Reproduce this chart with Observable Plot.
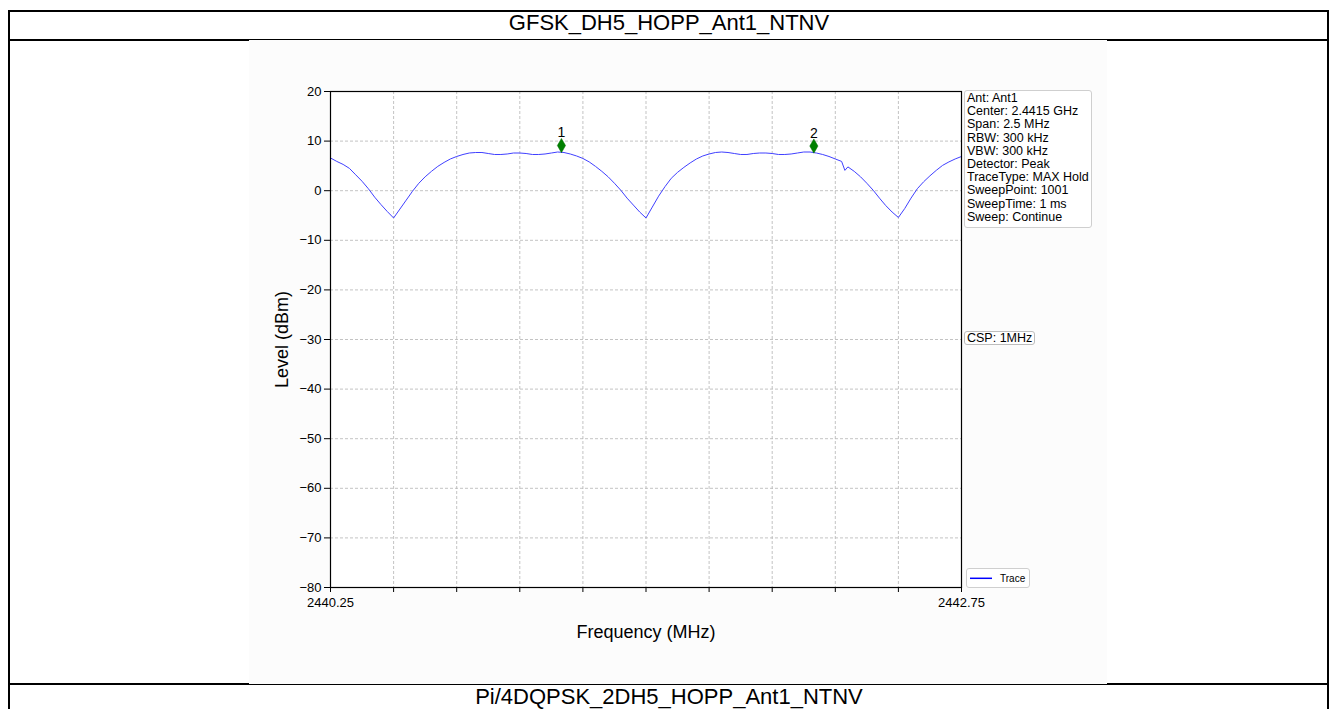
<!DOCTYPE html>
<html><head><meta charset="utf-8">
<script src="https://cdn.jsdelivr.net/npm/d3@7"></script>
<script src="https://cdn.jsdelivr.net/npm/@observablehq/plot@0.6"></script>
<style>
body{margin:0;background:#fff;font-family:Arial,"Liberation Sans",sans-serif;color:#000;}
#wrap{position:relative;width:1336px;height:709px;overflow:hidden;}
.abs{position:absolute;}
.line{position:absolute;background:#000;}
#info{left:964px;top:90px;width:124px;height:135px;border:1px solid #cfcfcf;border-radius:3px;background:#fff;padding:1px 0 0 2px;font-size:12.5px;line-height:13.2px;white-space:nowrap;}
#csp{left:964px;top:331px;width:67px;height:12px;border:1px solid #bdbdbd;border-radius:3px;background:#fff;padding:0 0 0 2px;font-size:12.5px;line-height:13px;white-space:nowrap;}
#legend{left:966px;top:568px;width:62px;height:18px;border:1px solid #cfcfcf;border-radius:3px;background:#fff;}
.title{position:absolute;left:10px;width:1318px;text-align:center;font-size:22px;line-height:22px;white-space:nowrap;}
</style></head><body><div id="wrap"></div>
<script>
// ---- data ----
const freqs = [
2440.250,2440.275,2440.300,2440.325,2440.350,2440.375,2440.400,2440.425,2440.450,2440.475,
2440.500,2440.525,2440.550,2440.575,2440.600,2440.625,2440.650,2440.675,2440.700,2440.725,
2440.750,2440.775,2440.800,2440.825,2440.850,2440.875,2440.900,2440.925,2440.950,2440.975,
2441.000,2441.025,2441.050,2441.075,2441.100,2441.125,2441.150,2441.175,2441.200,2441.225,
2441.250,2441.275,2441.300,2441.325,2441.350,2441.375,2441.400,2441.425,2441.450,2441.475,
2441.500,2441.525,2441.550,2441.575,2441.600,2441.625,2441.650,2441.675,2441.700,2441.725,
2441.750,2441.775,2441.800,2441.825,2441.850,2441.875,2441.900,2441.925,2441.950,2441.975,
2442.000,2442.025,2442.050,2442.075,2442.100,2442.125,2442.150,2442.175,2442.200,2442.225,
2442.250,2442.275,2442.288,2442.300,2442.325,2442.350,2442.375,2442.400,2442.425,2442.450,
2442.475,2442.500,2442.525,2442.550,2442.575,2442.600,2442.625,2442.650,2442.675,2442.700,
2442.725,2442.750];
const levels = [
6.6,5.9,5.3,4.5,3.2,1.9,0.4,-1.3,-2.8,-4.2,
-5.5,-3.7,-1.9,-0.1,1.5,2.8,3.9,4.9,5.7,6.4,
6.9,7.3,7.6,7.7,7.7,7.5,7.3,7.3,7.4,7.6,
7.6,7.5,7.3,7.3,7.4,7.6,7.8,7.7,7.4,7.0,
6.5,5.8,4.9,3.9,2.8,1.5,0.1,-1.5,-2.9,-4.3,
-5.5,-3.3,-1.1,0.8,2.5,3.7,4.7,5.6,6.4,7.0,
7.4,7.7,7.8,7.7,7.5,7.3,7.3,7.5,7.6,7.6,
7.5,7.3,7.3,7.4,7.6,7.8,7.8,7.6,7.3,6.9,
6.4,5.9,4.1,4.8,3.9,2.8,1.5,0.1,-1.5,-3.0,
-4.3,-5.4,-3.6,-1.5,0.4,1.8,3.0,4.1,5.1,5.8,
6.4,6.9];
const markerFreqs = [2441.165, 2442.165];
const markerLevels = [9.1, 9.0];
const markerLabels = ["1", "2"];
const yTicks = [-80,-70,-60,-50,-40,-30,-20,-10,0,10,20];
const xTicks = [2440.25,2440.5,2440.75,2441,2441.25,2441.5,2441.75,2442,2442.25,2442.5,2442.75];
const xTickLabels = ["2440.25","","","","","","","","","","2442.75"];
const infoLines = ["Ant: Ant1","Center: 2.4415 GHz","Span: 2.5 MHz","RBW: 300 kHz","VBW: 300 kHz","Detector: Peak","TraceType: MAX Hold","SweepPoint: 1001","SweepTime: 1 ms","Sweep: Continue"];
const cspText = "CSP: 1MHz";
const legendLabel = "Trace";
const titleTop = "GFSK_DH5_HOPP_Ant1_NTNV";
const titleBottom = "Pi/4DQPSK_2DH5_HOPP_Ant1_NTNV";
const xLabel = "Frequency (MHz)";
const yLabel = "Level (dBm)";

// ---- page frame ----
const wrap = document.getElementById("wrap");
function box(cls, css, html){ const d=document.createElement("div"); d.className=cls; Object.assign(d.style, css); if(html!=null) d.innerHTML=html; wrap.appendChild(d); return d; }
box("line",{left:"8px",top:"10px",width:"1321px",height:"2px"});
box("line",{left:"8px",top:"39px",width:"1321px",height:"2px"});
box("line",{left:"8px",top:"683px",width:"1321px",height:"2px"});
box("line",{left:"8px",top:"10px",width:"2px",height:"699px"});
box("line",{left:"1327px",top:"10px",width:"2px",height:"699px"});
box("abs",{left:"249px",top:"40px",width:"858px",height:"644px",background:"#fcfcfc"});
box("title",{top:"12px"}).textContent = titleTop;
box("title",{top:"686px"}).textContent = titleBottom;

// ---- chart ----
const trace = freqs.map((f,i)=>({f, v: levels[i]}));
const markers = markerFreqs.map((f,i)=>({f, v: markerLevels[i], t: markerLabels[i]}));
const chart = Plot.plot({
  width:1336, height:709,
  marginLeft:330, marginRight:375, marginTop:91, marginBottom:122,
  style:{background:"transparent", fontFamily:"Arial, 'Liberation Sans', sans-serif", color:"#000", position:"absolute", left:"0px", top:"0px"},
  x:{domain:[2440.25,2442.75]},
  y:{domain:[-80,20]},
  marks:[
    Plot.frame({fill:"white", stroke:"none"}),
    Plot.ruleX(xTicks.slice(1,-1), {stroke:"#b4b4b4", strokeWidth:0.8, strokeDasharray:"3,2"}),
    Plot.ruleY(yTicks.slice(1,-1), {stroke:"#b4b4b4", strokeWidth:0.8, strokeDasharray:"3,2"}),
    Plot.line(trace, {x:"f", y:"v", stroke:"#4040ff", strokeWidth:1}),
    Plot.dot(markers, {x:"f", y:"v", symbol:"diamond", r:4.3, fill:"#008000", stroke:"#007000", strokeWidth:0.5}),
    Plot.text(markers, {x:"f", y:"v", text:"t", dy:-13, fontSize:14}),
    Plot.axisX({ticks:xTicks, tickFormat:d=>xTickLabels[xTicks.indexOf(d)] ?? "", tickSize:5, tickPadding:5, fontSize:13, label:null, stroke:"#000"}),
    Plot.axisY({ticks:yTicks, tickSize:6, tickPadding:3, fontSize:13, label:null, stroke:"#000"}),
    Plot.frame({stroke:"#000", strokeWidth:1.2}),
    Plot.text([yLabel], {frameAnchor:"left", textAnchor:"middle", lineAnchor:"middle", dx:-48, rotate:-90, fontSize:18}),
    Plot.text([xLabel], {frameAnchor:"bottom", textAnchor:"middle", lineAnchor:"middle", dy:45, fontSize:18})
  ]
});
wrap.appendChild(chart);

// ---- annotation boxes ----
box("abs",{},null).id="info";
document.getElementById("info").innerHTML = infoLines.map(s=>`<div>${s}</div>`).join("");
const c = box("abs",{},null); c.id="csp"; c.textContent = cspText;
const lg = box("abs",{},null); lg.id="legend";
lg.innerHTML = `<svg width="62" height="18" style="position:absolute;left:0;top:0"><line x1="3" x2="25" y1="9.3" y2="9.3" stroke="#0000ff" stroke-width="1.5"/><text x="33" y="12.7" font-size="10" font-family="Arial, 'Liberation Sans', sans-serif">${legendLabel}</text></svg>`;
</script></body></html>
